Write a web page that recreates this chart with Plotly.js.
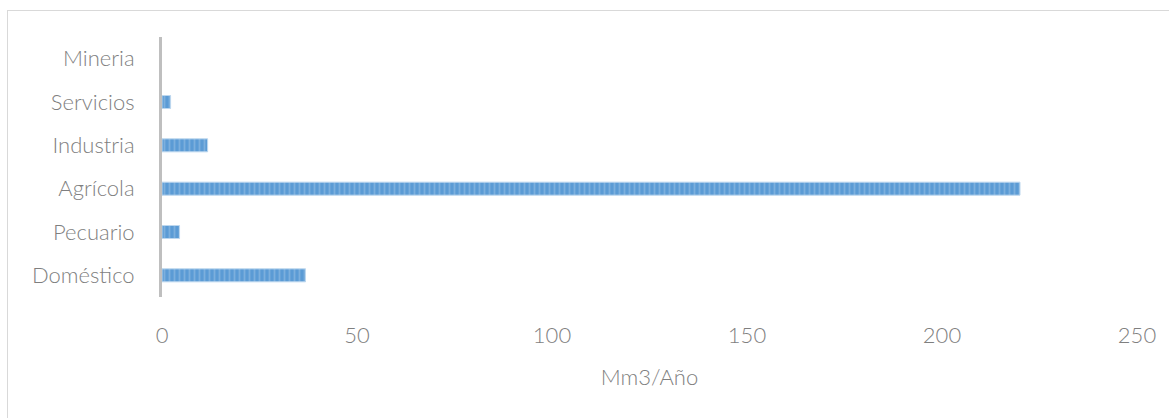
<!DOCTYPE html>
<html>
<head>
<meta charset="utf-8">
<script src="https://cdn.plot.ly/plotly-3.0.1.min.js"></script>
<style>
  html, body { margin: 0; padding: 0; background: #fff; }
  #wrap { position: relative; width: 1169px; height: 418px; overflow: hidden; }
  #frame { position: absolute; left: 7px; top: 10px; width: 1200px; height: 440px; border: 1px solid #d9d9d9; box-sizing: border-box; }
  #chart { position: absolute; left: 0; top: 0; width: 1169px; height: 418px; }
</style>
</head>
<body>
<div id="wrap">
  <div id="frame"></div>
  <div id="chart"></div>
</div>
<script>
const categories = ["Doméstico", "Pecuario", "Agrícola", "Industria", "Servicios", "Mineria"];
const values = [36.8, 4.5, 220.0, 11.7, 2.2, 0.0];
const xTicks = [0, 50, 100, 150, 200, 250];
const xTitle = "Mm3/Año";

const fontFamily = "Lato, 'Open Sans', sans-serif";
const textColor = "#7f7f7f";

const trace = {
  type: "bar",
  orientation: "h",
  y: categories,
  x: values,
  width: 0.3,
  marker: {
    color: "#5b9bd5",
    line: { color: "#bdd7ee", width: values.map(v => v > 0 ? 1 : 0) },
    pattern: { shape: "|", fgcolor: "#9dc3e6", bgcolor: "#5b9bd5", size: 5, solidity: 0.35, fillmode: "overlay" }
  },
  hoverinfo: "x+y"
};

const layout = {
  width: 1169,
  height: 418,
  margin: { l: 162, r: 32, t: 37, b: 121 },
  paper_bgcolor: "rgba(0,0,0,0)",
  plot_bgcolor: "rgba(0,0,0,0)",
  showlegend: false,
  font: { family: fontFamily, color: textColor, size: 22, weight: 300 },
  xaxis: {
    range: [0, 250],
    tickvals: xTicks,
    ticktext: xTicks.map(String),
    showgrid: false,
    zeroline: false,
    showline: false,
    ticks: "",
    ticklabelstandoff: 23,
    tickfont: { family: fontFamily, color: textColor, size: 22, weight: 300 },
    title: { text: xTitle, font: { family: fontFamily, color: textColor, size: 22, weight: 300 }, standoff: 22 }
  },
  yaxis: {
    type: "category",
    categoryorder: "array",
    categoryarray: categories,
    showgrid: false,
    zeroline: false,
    showline: true,
    linecolor: "#bfbfbf",
    linewidth: 3,
    ticks: "",
    ticklabelstandoff: 20,
    tickfont: { family: fontFamily, color: textColor, size: 22, weight: 300 }
  },
  bargap: 0.7
};

Plotly.newPlot("chart", [trace], layout, { displayModeBar: false, staticPlot: true });
</script>
</body>
</html>
